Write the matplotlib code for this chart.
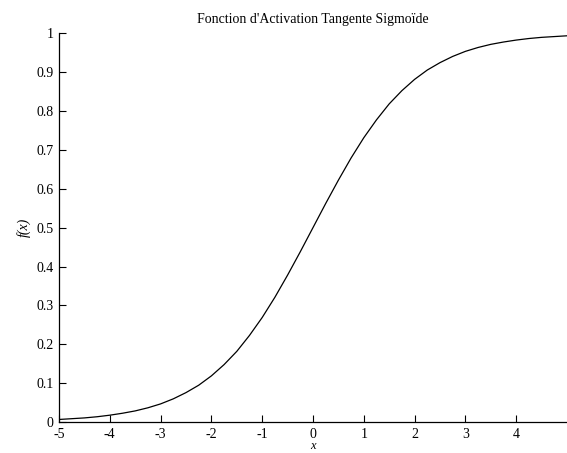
# Fonction d'activation tangente sigmoide - courbe f(x)
import matplotlib.pyplot as plt

plt.rcParams['font.family'] = ['Liberation Serif', 'DejaVu Serif']

# Points
x_vals = [-5, -4.75, -4.5, -4.25, -4, -3.75, -3.5, -3.25, -3, -2.75, -2.5, -2.25, -2,
          -1.75, -1.5, -1.25, -1, -0.75, -0.5, -0.25, 0, 0.25, 0.5, 0.75, 1, 1.25,
          1.5, 1.75, 2, 2.25, 2.5, 2.75, 3, 3.25, 3.5, 3.75, 4, 4.25, 4.5, 4.75, 5]
f_vals = [0.007, 0.009, 0.011, 0.014, 0.018, 0.023, 0.029, 0.037, 0.047, 0.060,
          0.076, 0.095, 0.119, 0.148, 0.182, 0.223, 0.269, 0.321, 0.378, 0.438,
          0.5, 0.562, 0.622, 0.679, 0.731, 0.777, 0.818, 0.852, 0.881, 0.905,
          0.924, 0.940, 0.953, 0.963, 0.971, 0.977, 0.982, 0.986, 0.989, 0.991, 0.993]
x_ticks = [-5, -4, -3, -2, -1, 0, 1, 2, 3, 4]
y_ticks = [0, 0.1, 0.2, 0.3, 0.4, 0.5, 0.6, 0.7, 0.8, 0.9, 1]

fig = plt.figure(figsize=(5.67, 4.53), dpi=100)
ax = fig.add_axes([0.104, 0.068, 0.896, 0.859])

ax.plot(x_vals, f_vals, color='black', linewidth=0.9)

ax.set_xlim(-5, 5)
ax.set_ylim(0, 1)
ax.set_xticks(x_ticks)
ax.set_xticklabels([str(t) for t in x_ticks])
ax.set_yticks(y_ticks)
ax.set_yticklabels(['0', '0.1', '0.2', '0.3', '0.4', '0.5', '0.6', '0.7', '0.8', '0.9', '1'])
ax.tick_params(direction='in', length=5, width=0.8, labelsize=10, pad=4)
ax.spines['top'].set_visible(False)
ax.spines['right'].set_visible(False)
for s in ['left', 'bottom']:
    ax.spines[s].set_linewidth(0.9)

ax.set_title("Fonction d'Activation Tangente Sigmoïde", fontsize=10, pad=7)
ax.set_ylabel('f(x)', fontsize=10, style='italic')
ax.yaxis.set_label_coords(-0.055, 0.5)
ax.set_xlabel('x', fontsize=9, style='italic')
ax.xaxis.set_label_coords(0.5, -0.046)

fig.savefig('out.png', dpi=100)
